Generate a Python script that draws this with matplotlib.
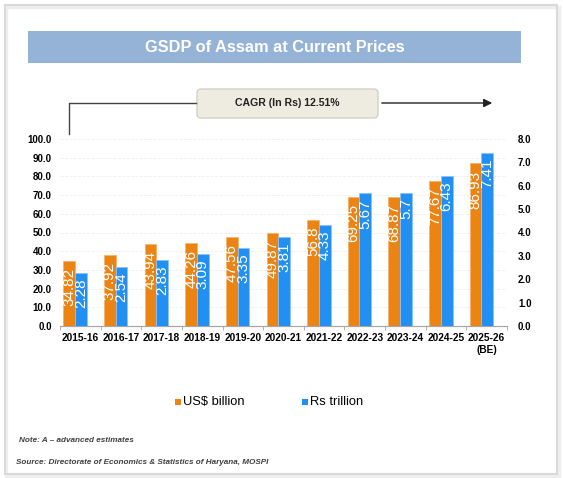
import matplotlib
matplotlib.use("Agg")
import matplotlib.pyplot as plt
from matplotlib.patches import Rectangle, FancyBboxPatch, FancyArrowPatch
from matplotlib.lines import Line2D
import numpy as np

plt.rcParams["font.family"] = ["Liberation Sans", "DejaVu Sans"]

years = ["2015-16", "2016-17", "2017-18", "2018-19", "2019-20", "2020-21",
         "2021-22", "2022-23", "2023-24", "2024-25", "2025-26\n(BE)"]
usd_billion = [34.82, 37.92, 43.94, 44.26, 47.56, 49.87, 56.8, 69.25, 68.87, 77.67, 86.93]
rs_trillion = [2.28, 2.54, 2.83, 3.09, 3.35, 3.81, 4.33, 5.67, 5.7, 6.43, 7.41]
left_ticks = np.arange(0, 101, 10)
right_ticks = np.arange(0, 8.1, 1)

ORANGE = "#EC8414"
BLUE = "#2290F3"

W, H = 563, 478
fig = plt.figure(figsize=(W / 100, H / 100), dpi=100)


def fx(px):
    return px / W


def fy(py):
    return 1 - py / H


# card border (with a faint shadow)
fig.patches.append(Rectangle((fx(6), fy(476)), fx(553), 469 / H, transform=fig.transFigure,
                             fill=False, edgecolor="#eeeeee", lw=2.5))
fig.patches.append(Rectangle((fx(5), fy(474)), fx(552), 469 / H, transform=fig.transFigure,
                             fill=False, edgecolor="#d9d9d9", lw=1.5))

# title band
fig.patches.append(Rectangle((fx(28), fy(63)), fx(493), 32 / H, transform=fig.transFigure,
                             facecolor="#95B3D7", edgecolor="none"))
fig.text(fx(275), fy(47), "GSDP of Assam at Current Prices", color="white",
         fontsize=11.8, fontweight="bold", ha="center", va="center")

# CAGR box + arrow
fig.patches.append(FancyBboxPatch((fx(197), fy(118)), fx(181), 29 / H,
                                  boxstyle="round,pad=0,rounding_size=0.008",
                                  transform=fig.transFigure, facecolor="#EEEBE1",
                                  edgecolor="#d4d0c6", lw=1))
fig.text(fx(287), fy(103), "CAGR (In Rs) 12.51%", fontsize=7.6, fontweight="bold",
         ha="center", va="center", color="#222222")
fig.lines.append(Line2D([fx(69), fx(69), fx(196)], [fy(134), fy(103), fy(103)],
                        transform=fig.transFigure, color="#444444", lw=1))
fig.patches.append(FancyArrowPatch(
    (fx(379), fy(103)), (fx(495), fy(103)), transform=fig.transFigure,
    arrowstyle="-|>,head_length=5,head_width=2.5", color="#222222", lw=1))

ax = fig.add_axes([fx(60), fy(326), fx(447), (326 - 139) / H])
ax2 = ax.twinx()

x = np.arange(len(years))
bw = 0.29
ax.bar(x - 0.273, usd_billion, bw, color=ORANGE, edgecolor="#F7B56A", lw=0.6, zorder=3)
ax2.bar(x + 0.015, rs_trillion, bw, color=BLUE, edgecolor="#8CC4FA", lw=0.6, zorder=3)

for xi, v in zip(x, usd_billion):
    ax.annotate(f"{v:g}", (xi - 0.273, v), xytext=(0, -5), textcoords="offset points",
                rotation=90, ha="center", va="top", color="white", fontsize=11, zorder=4)
for xi, v in zip(x, rs_trillion):
    ax2.annotate(f"{v:g}", (xi + 0.015, v), xytext=(0, -4), textcoords="offset points",
                 rotation=90, ha="center", va="top", color="white", fontsize=11, zorder=4)

ax.set_xlim(-0.5, len(years) - 0.5)
ax.set_ylim(0, 100)
ax2.set_ylim(0, 8)
ax.set_yticks(left_ticks)
ax.set_yticklabels([f"{t:.1f}" for t in left_ticks])
ax2.set_yticks(right_ticks)
ax2.set_yticklabels([f"{t:.1f}" for t in right_ticks])
ax.set_xticks(x)
ax.set_xticklabels(years)
ax.set_xticks(np.arange(-0.5, len(years), 1), minor=True)

ax.grid(axis="y", color="#eeeeee", lw=0.6, ls="--", zorder=0)
for a in (ax, ax2):
    for s in ("top", "left", "right"):
        a.spines[s].set_visible(False)
    a.spines["bottom"].set_color("#a6a6a6")
ax.tick_params(axis="y", length=0, labelsize=7, pad=6)
ax2.tick_params(axis="y", length=0, labelsize=7, pad=8)
for lab in ax.get_yticklabels() + ax2.get_yticklabels():
    lab.set_fontweight("bold")
ax.tick_params(axis="x", which="major", length=0, labelsize=7.3, pad=5)
ax.tick_params(axis="x", which="minor", length=3, color="#a6a6a6")
for lab in ax.get_xticklabels():
    lab.set_fontweight("bold")
    lab.set_linespacing(1.3)

# legend
fig.patches.append(Rectangle((fx(175), fy(405)), fx(6), 6 / H, transform=fig.transFigure,
                             facecolor=ORANGE, edgecolor="none"))
fig.text(fx(183), fy(402), "US$ billion", fontsize=9.3, ha="left", va="center")
fig.patches.append(Rectangle((fx(302), fy(405)), fx(6), 6 / H, transform=fig.transFigure,
                             facecolor=BLUE, edgecolor="none"))
fig.text(fx(310), fy(402), "Rs trillion", fontsize=9.3, ha="left", va="center")

fig.text(fx(19), fy(441), "Note: A \u2013 advanced estimates", fontsize=5.9,
         fontstyle="italic", fontweight="bold", color="#404040", va="center")
fig.text(fx(16), fy(463), "Source: Directorate of Economics & Statistics of Haryana, MOSPI",
         fontsize=5.9, fontstyle="italic", fontweight="bold", color="#404040", va="center")

fig.savefig("out.png", dpi=100)
